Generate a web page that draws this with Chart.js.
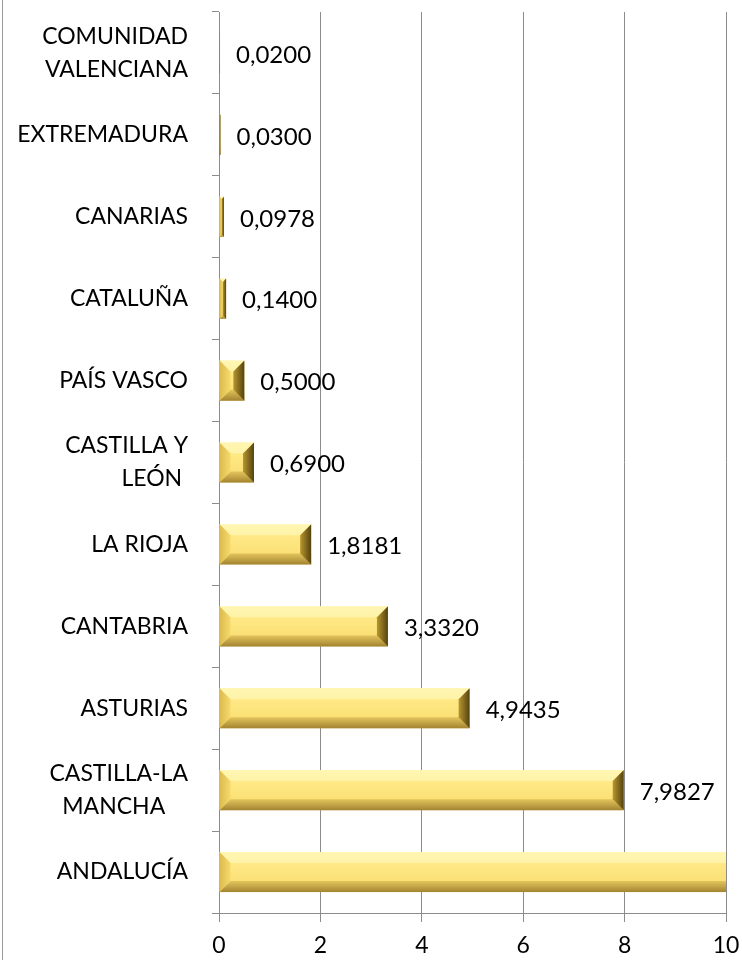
<!DOCTYPE html>
<html><head><meta charset="utf-8">
<script src="https://cdn.jsdelivr.net/npm/chart.js@4"></script>
<style>
html,body{margin:0;padding:0;background:#fff;}
#wrap{position:relative;width:742px;height:960px;}
#wrap:before{content:"";position:absolute;left:2px;top:0;width:1px;height:960px;background:#9a9a9a;}
canvas{display:block;}
</style></head><body>
<div id="wrap"><canvas id="c" width="742" height="960"></canvas></div>
<script>
const categories = [["COMUNIDAD","VALENCIANA"],"EXTREMADURA","CANARIAS","CATALUÑA","PAÍS VASCO",["CASTILLA Y","LEÓN\u00A0"],"LA RIOJA","CANTABRIA","ASTURIAS",["CASTILLA-LA","MANCHA\u00A0\u00A0\u00A0\u00A0"],"ANDALUCÍA"];
const values = [0.0200,0.0300,0.0978,0.1400,0.5000,0.6900,1.8181,3.3320,4.9435,7.9827,10.6];
const xTicks = [0,2,4,6,8,10];
const FONT = "Lato";

function fmt(v){return v.toFixed(4).replace('.',',');}

const bevelPlugin = {
  id:'bevel',
  afterDatasetsDraw(chart){
    const ctx = chart.ctx, area = chart.chartArea;
    const meta = chart.getDatasetMeta(0);
    ctx.save();
    ctx.beginPath(); ctx.rect(area.left, area.top-2, area.right-area.left, area.bottom-area.top+4); ctx.clip();
    meta.data.forEach((bar)=>{
      const x0 = Math.min(bar.base, bar.x), x1 = Math.max(bar.base, bar.x);
      const y0 = bar.y - bar.height/2, y1 = bar.y + bar.height/2;
      const w = x1-x0, h = y1-y0;
      const b = Math.min(11, w/2, h/2);
      const g = ctx.createLinearGradient(0,y0,0,y1);
      g.addColorStop(0,'#fff3a0'); g.addColorStop(0.3,'#ffe986'); g.addColorStop(0.75,'#fadf74'); g.addColorStop(1,'#e2c25a');
      ctx.fillStyle = g; ctx.fillRect(x0,y0,w,h);
      if (w < 3) { ctx.fillStyle='#6b5414'; ctx.fillRect(x0,y0,w,h); return; }
      ctx.fillStyle='rgba(255,248,190,0.6)';
      ctx.beginPath(); ctx.moveTo(x0,y0); ctx.lineTo(x1,y0); ctx.lineTo(x1-b,y0+b); ctx.lineTo(x0+b,y0+b); ctx.closePath(); ctx.fill();
      const gb = ctx.createLinearGradient(0,y1-b,0,y1);
      gb.addColorStop(0,'rgba(205,170,70,0.55)'); gb.addColorStop(1,'rgba(140,110,35,0.75)');
      ctx.fillStyle=gb;
      ctx.beginPath(); ctx.moveTo(x0,y1); ctx.lineTo(x1,y1); ctx.lineTo(x1-b,y1-b); ctx.lineTo(x0+b,y1-b); ctx.closePath(); ctx.fill();
      const gl = ctx.createLinearGradient(x0,0,x0+b,0);
      gl.addColorStop(0,'#dcb94e'); gl.addColorStop(1,'#f6da6c');
      ctx.fillStyle=gl;
      ctx.beginPath(); ctx.moveTo(x0,y0); ctx.lineTo(x0+b,y0+b); ctx.lineTo(x0+b,y1-b); ctx.lineTo(x0,y1); ctx.closePath(); ctx.fill();
      const gr = ctx.createLinearGradient(x1-b,0,x1,0);
      gr.addColorStop(0,'#b8962f'); gr.addColorStop(1,'#54420f');
      ctx.fillStyle=gr;
      ctx.beginPath(); ctx.moveTo(x1,y0); ctx.lineTo(x1-b,y0+b); ctx.lineTo(x1-b,y1-b); ctx.lineTo(x1,y1); ctx.closePath(); ctx.fill();
    });
    ctx.restore();
    ctx.save();
    ctx.font = '24px ' + FONT;
    ctx.fillStyle = '#000';
    ctx.textBaseline = 'middle';
    ctx.textAlign = 'left';
    const xs = chart.scales.x;
    meta.data.forEach((bar,i)=>{
      const v = values[i];
      if (v > xs.max) return;
      ctx.fillText(fmt(v), bar.x + 16, bar.y + 2);
    });
    ctx.restore();
  }
};

new Chart(document.getElementById('c'),{
  type:'bar',
  data:{labels:categories,datasets:[{data:values,backgroundColor:'rgba(0,0,0,0)',borderWidth:0,categoryPercentage:1,barPercentage:0.49}]},
  options:{
    indexAxis:'y',
    responsive:false,
    animation:false,
    layout:{padding:{top:12,right:16,left:0,bottom:0}},
    plugins:{legend:{display:false},tooltip:{enabled:false}},
    scales:{
      x:{
        min:0,max:10,
        afterBuildTicks(s){ s.ticks = xTicks.map(v=>({value:v})); },
        afterFit(s){ s.height = 47; s.paddingLeft = 0; s.paddingRight = 0; },
        border:{color:'#8c8c8c',width:1},
        grid:{color:'#8c8c8c',lineWidth:1,drawTicks:true,tickLength:9},
        ticks:{font:{family:FONT,size:23},color:'#000',padding:10,maxRotation:0}
      },
      y:{
        afterFit(s){ s.width = 219; s.paddingTop = 0; s.paddingBottom = 0; },
        border:{color:'#8c8c8c',width:1},
        grid:{offset:true,drawOnChartArea:false,drawTicks:true,tickLength:7,color:'#8c8c8c'},
        ticks:{font:{family:FONT,size:23,lineHeight:1.43},color:'#000',padding:24}
      }
    }
  },
  plugins:[bevelPlugin]
});
</script>
</body></html>
